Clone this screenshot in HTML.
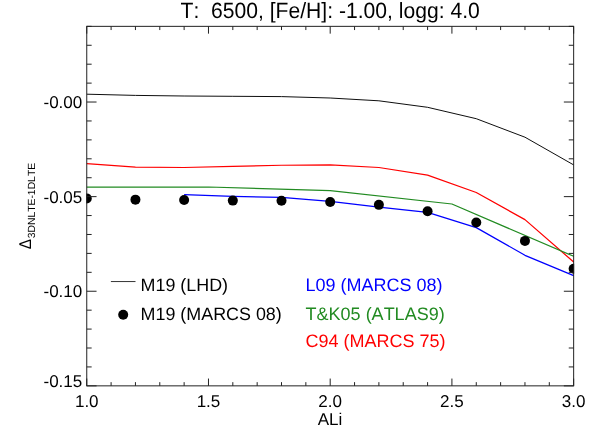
<!DOCTYPE html>
<html><head><meta charset="utf-8"><title>plot</title>
<style>html,body{margin:0;padding:0;background:#fff;overflow:hidden}body{width:598px;height:440px;position:relative;font-family:"Liberation Sans",sans-serif}</style>
</head><body>
<svg width="598" height="440" viewBox="0 0 598 440" style="position:absolute;left:0;top:0">
<rect x="0" y="0" width="598" height="440" fill="#fff"/>
<defs><clipPath id="c"><rect x="86.25" y="25.85" width="487.90" height="360.50"/></clipPath></defs>
<g fill="none" stroke-linejoin="round" clip-path="url(#c)">
<polyline points="86.75,94.20 135.44,95.40 184.13,96.00 232.82,96.30 281.51,96.60 330.20,98.00 378.89,100.80 427.58,107.30 476.27,118.70 524.96,137.20 573.65,164.90" stroke="#000" stroke-width="0.95"/>
<polyline points="86.75,163.60 135.44,167.05 184.13,167.50 232.82,166.45 281.51,165.25 330.20,164.80 378.89,167.50 427.58,175.20 476.27,192.50 524.96,219.60 573.65,262.00" stroke="#ff0000" stroke-width="1.25"/>
<polyline points="86.75,187.00 208.47,187.00 330.20,190.70 451.92,204.00 573.65,256.30" stroke="#228b22" stroke-width="1.25"/>
<polyline points="184.13,194.70 232.82,196.45 281.51,197.40 330.20,201.40 378.89,207.15 427.58,212.30 476.27,227.60 524.96,255.30 573.65,275.70" stroke="#0000ff" stroke-width="1.25"/>
</g>
<g fill="#000" clip-path="url(#c)">
<circle cx="86.75" cy="198.40" r="5"/>
<circle cx="135.44" cy="199.65" r="5"/>
<circle cx="184.13" cy="200.05" r="5"/>
<circle cx="232.82" cy="200.60" r="5"/>
<circle cx="281.51" cy="200.75" r="5"/>
<circle cx="330.20" cy="201.95" r="5"/>
<circle cx="378.89" cy="204.85" r="5"/>
<circle cx="427.58" cy="211.20" r="5"/>
<circle cx="476.27" cy="222.50" r="5"/>
<circle cx="524.96" cy="240.90" r="5"/>
<circle cx="573.65" cy="268.70" r="5"/>
</g>
<circle cx="123.2" cy="314.7" r="5" fill="#000"/>
<line x1="110.9" y1="281.55" x2="135.5" y2="281.55" stroke="#000" stroke-width="0.8"/>
<g stroke="#222" stroke-width="1" fill="none">
<rect x="86.75" y="26.35" width="486.90" height="359.50"/>
<path d="M86.75 385.85v-7.30M86.75 26.35v7.30M111.10 385.85v-3.70M111.10 26.35v3.70M135.44 385.85v-3.70M135.44 26.35v3.70M159.79 385.85v-3.70M159.79 26.35v3.70M184.13 385.85v-3.70M184.13 26.35v3.70M208.47 385.85v-7.30M208.47 26.35v7.30M232.82 385.85v-3.70M232.82 26.35v3.70M257.17 385.85v-3.70M257.17 26.35v3.70M281.51 385.85v-3.70M281.51 26.35v3.70M305.85 385.85v-3.70M305.85 26.35v3.70M330.20 385.85v-7.30M330.20 26.35v7.30M354.55 385.85v-3.70M354.55 26.35v3.70M378.89 385.85v-3.70M378.89 26.35v3.70M403.23 385.85v-3.70M403.23 26.35v3.70M427.58 385.85v-3.70M427.58 26.35v3.70M451.92 385.85v-7.30M451.92 26.35v7.30M476.27 385.85v-3.70M476.27 26.35v3.70M500.62 385.85v-3.70M500.62 26.35v3.70M524.96 385.85v-3.70M524.96 26.35v3.70M549.31 385.85v-3.70M549.31 26.35v3.70M573.65 385.85v-7.30M573.65 26.35v7.30M86.75 385.85h9.80M573.65 385.85h-9.80M86.75 366.93h4.90M573.65 366.93h-4.90M86.75 348.01h4.90M573.65 348.01h-4.90M86.75 329.09h4.90M573.65 329.09h-4.90M86.75 310.17h4.90M573.65 310.17h-4.90M86.75 291.24h9.80M573.65 291.24h-9.80M86.75 272.32h4.90M573.65 272.32h-4.90M86.75 253.40h4.90M573.65 253.40h-4.90M86.75 234.48h4.90M573.65 234.48h-4.90M86.75 215.56h4.90M573.65 215.56h-4.90M86.75 196.64h9.80M573.65 196.64h-9.80M86.75 177.72h4.90M573.65 177.72h-4.90M86.75 158.80h4.90M573.65 158.80h-4.90M86.75 139.88h4.90M573.65 139.88h-4.90M86.75 120.96h4.90M573.65 120.96h-4.90M86.75 102.03h9.80M573.65 102.03h-9.80M86.75 83.11h4.90M573.65 83.11h-4.90M86.75 64.19h4.90M573.65 64.19h-4.90M86.75 45.27h4.90M573.65 45.27h-4.90M86.75 26.35h4.90M573.65 26.35h-4.90"/>
</g>
<g font-family="'Liberation Sans', sans-serif" fill="#000" opacity="0.999" style="font-kerning:none;font-variant-ligatures:none;text-rendering:geometricPrecision">
<text transform="translate(180.53,17.70) scale(1,1.045)" font-size="21.11">T:&#160;&#160;6500, [Fe/H]: -1.00, logg: 4.0</text>
<text transform="translate(82.30,108.03) scale(1,1.000)" font-size="17.05" text-anchor="end">-0.00</text>
<text transform="translate(82.30,202.64) scale(1,1.000)" font-size="17.05" text-anchor="end">-0.05</text>
<text transform="translate(82.30,297.24) scale(1,1.000)" font-size="17.05" text-anchor="end">-0.10</text>
<text transform="translate(82.30,386.55) scale(1,1.000)" font-size="17.05" text-anchor="end">-0.15</text>
<text transform="translate(86.75,406.90) scale(1,1.000)" font-size="17.05" text-anchor="middle">1.0</text>
<text transform="translate(208.47,406.90) scale(1,1.000)" font-size="17.05" text-anchor="middle">1.5</text>
<text transform="translate(330.20,406.90) scale(1,1.000)" font-size="17.05" text-anchor="middle">2.0</text>
<text transform="translate(451.92,406.90) scale(1,1.000)" font-size="17.05" text-anchor="middle">2.5</text>
<text transform="translate(573.65,406.90) scale(1,1.000)" font-size="17.05" text-anchor="middle">3.0</text>
<text transform="translate(330.00,424.75) scale(1,1.000)" font-size="17.05" text-anchor="middle">ALi</text>
<text transform="translate(30.9,249.2) rotate(-90) scale(1,1.12)" font-size="15.2">&#916;</text>
<text transform="translate(34.6,238.3) rotate(-90)" font-size="10.36">3DNLTE-1DLTE</text>
<text transform="translate(140.60,291.20) scale(1,1.000)" font-size="17.90">M19 (LHD)</text>
<text transform="translate(140.60,320.00) scale(1,1.000)" font-size="17.90">M19 (MARCS 08)</text>
<text transform="translate(305.45,291.30) scale(1,1.000)" font-size="18.00" fill="#0000ff">L09 (MARCS 08)</text>
<text transform="translate(305.60,319.50) scale(1,1.000)" font-size="18.00" fill="#228b22">T&amp;K05 (ATLAS9)</text>
<text transform="translate(305.40,347.40) scale(1,1.000)" font-size="18.00" fill="#ff0000">C94 (MARCS 75)</text>
</g>
</svg>
</body></html>
